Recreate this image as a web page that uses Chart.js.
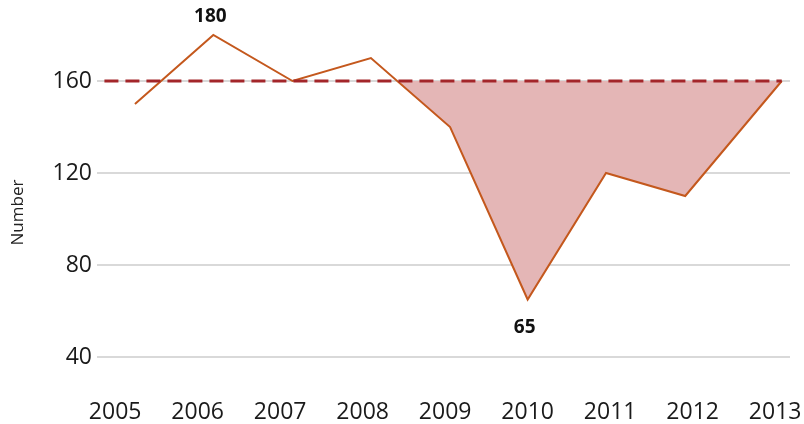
<!DOCTYPE html>
<html>
<head>
<meta charset="utf-8">
<script src="https://cdn.jsdelivr.net/npm/chart.js@4/dist/chart.umd.min.js"></script>
<style>
  html,body{margin:0;padding:0;background:#fff;}
  #wrap{width:804px;height:424px;}
</style>
</head>
<body>
<div id="wrap"><canvas id="c" width="804" height="424"></canvas></div>
<script>
/* ===== data ===== */
const yearTicks = [2005, 2006, 2007, 2008, 2009, 2010, 2011, 2012, 2013];
const pointYears = [2005.24, 2006.19, 2007.15, 2008.10, 2009.06, 2010.00, 2010.95, 2011.91, 2013.08];
const values = [150, 180, 160, 170, 140, 65, 120, 110, 160];
const avgValue = 160;
const avgSpan = [2004.87, 2013.08];
const yTicks = [40, 80, 120, 160];
const yTitle = 'Number';
const shadeFrom = 3;            // shading starts at the 2008 point
const callouts = [1, 5];        // indexes of max / min labels

const FONT = '"Open Sans", "Noto Sans", sans-serif';
const pts = pointYears.map((x,i)=>({x, y:values[i]}));

// max / min value labels plus the y-axis title (sits a bit below centre)
const calloutPlugin = {
  id:'callouts',
  afterDatasetsDraw(chart){
    const {ctx, chartArea, scales:{x, y}} = chart;
    ctx.save();
    ctx.font = `bold 19px ${FONT}`;
    ctx.fillStyle = '#111';
    ctx.textAlign = 'center';
    ctx.textBaseline = 'middle';
    callouts.forEach(i=>{
      const px = x.getPixelForValue(pointYears[i]), py = y.getPixelForValue(values[i]);
      const up = values[i] >= avgValue;
      ctx.fillText(String(values[i]), px - 3, up ? py - 18 : py + 28);
    });
    ctx.font = `17px ${FONT}`;
    ctx.fillStyle = '#222';
    ctx.translate(18, (chartArea.top + chartArea.bottom)/2 + 28);
    ctx.rotate(-Math.PI/2);
    ctx.fillText(yTitle, 0, 0);
    ctx.restore();
  }
};

// keep the axes from reserving room for their end labels
const noEdgePad = s=>{ s.paddingLeft = s.paddingRight = s.paddingTop = s.paddingBottom = 0; };

new Chart(document.getElementById('c'), {
  type:'line',
  data:{
    datasets:[
      { // average reference line
        data: avgSpan.map(x=>({x, y:avgValue})),
        borderColor:'#a3262a', borderWidth:3, borderDash:[14,7],
        pointRadius:0, fill:false, order:1, clip:false
      },
      {
        data: pts,
        borderColor:'#c4581d', borderWidth:2, pointRadius:0,
        fill:false, tension:0, order:2, clip:false
      },
      { // shaded gap under the average
        data: pts.slice(shadeFrom),
        borderWidth:0, borderColor:'transparent', pointRadius:0,
        fill:{target:{value:avgValue}, above:'transparent', below:'#e4b6b6'},
        order:3, clip:false
      }
    ]
  },
  options:{
    responsive:false, animation:false,
    layout:{padding:{left:8, right:14, top:12, bottom:0}},
    plugins:{legend:{display:false}, tooltip:{enabled:false}},
    scales:{
      x:{
        type:'linear', min:2004.78, max:2013.18,
        afterBuildTicks:s=>{ s.ticks = yearTicks.map(v=>({value:v})); },
        afterFit:s=>{ s.height = 67; noEdgePad(s); },
        grid:{display:false, drawTicks:false}, border:{display:false},
        ticks:{padding:42, color:'#1a1a1a', font:{family:FONT, size:23}, maxRotation:0, autoSkip:false,
               callback:v=>String(v)}
      },
      y:{
        min:40, max:190,
        afterBuildTicks:s=>{ s.ticks = yTicks.map(v=>({value:v})); },
        afterFit:s=>{ s.width = 89; noEdgePad(s); },
        grid:{color:'#d9d9d9', lineWidth:2, drawTicks:false},
        border:{display:false},
        ticks:{padding:5, color:'#1a1a1a', font:{family:FONT, size:23}}
      }
    }
  },
  plugins:[calloutPlugin]
});
</script>
</body>
</html>
